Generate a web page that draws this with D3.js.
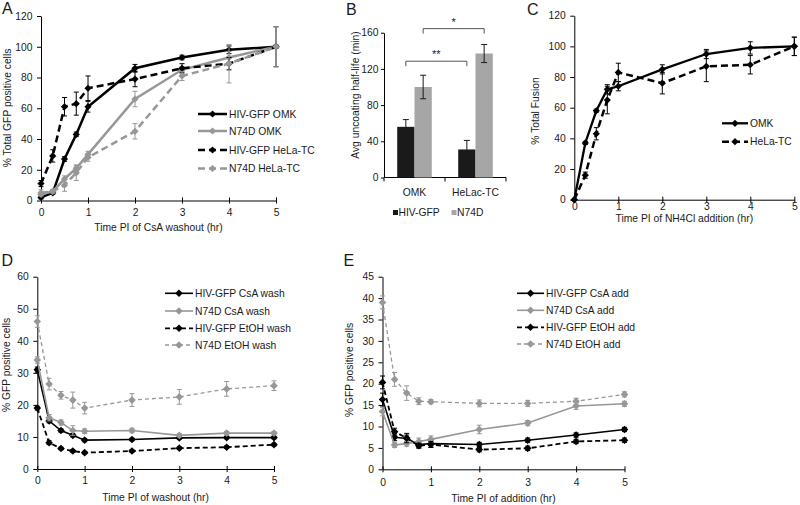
<!DOCTYPE html>
<html>
<head>
<meta charset="utf-8">
<script src="https://cdn.jsdelivr.net/npm/d3@7"></script>
<style>
body { margin: 0; background: #fff; }
text { font-family: "Liberation Sans", Arial, sans-serif; fill: #1a1a1a; }
</style>
</head>
<body>
<svg id="fig" width="800" height="505"></svg>
<script>
// shared time points (hr)
var times = [0, 0.25, 0.5, 0.75, 1, 2, 3, 4, 5];
var hourTicks = [0, 1, 2, 3, 4, 5];

// panel A - % total GFP positive cells after CsA washout
var aNames = ["HIV-GFP OMK", "N74D OMK", "HIV-GFP HeLa-TC", "N74D HeLa-TC"];
var aHivOmk = [2, 5, 27, 43, 61, 86, 93, 98, 100];
var aHivOmkErr = [1, 1, 1.5, 1.5, 3.5, 2.5, 1.5, 2.5, 1];
var aN74dOmk = [4, 6, 14, 21, 30, 66, 85, 93, 100];
var aN74dOmkErr = [1, 1, 2, 2, 2, 5, 2, 4, 1];
var aHivHela = [11, 29, 61, 63, 73, 79, 86, 89, 100];
var aHivHelaErr = [2, 4, 6, 7.5, 8, 5, 3, 4, 13];
var aN74dHela = [5, 6, 10, 18, 28, 45, 81, 89, 100];
var aN74dHelaErr = [2, 1, 4, 5, 2.5, 5, 3, 12.5, 13];

// panel B - average uncoating half-life (min)
var bCats = ["OMK", "HeLac-TC"];
var bHiv = [56, 31];
var bHivErr = [8, 10];
var bN74d = [100, 137];
var bN74dErr = [13, 10];

// panel C - % total fusion after NH4Cl addition
var cNames = ["OMK", "HeLa-TC"];
var cOmk = [0, 37, 58, 72, 74, 85, 95, 99, 100];
var cOmkErr = [0, 1, 1, 3, 3, 3, 3, 4, 6];
var cHela = [0, 16, 43, 65, 83, 76, 87, 88, 100];
var cHelaErr = [0, 2, 4, 9, 6, 7, 10, 6, 6];

// panel D - % GFP positive cells after washout
var dNames = ["HIV-GFP CsA wash", "N74D CsA wash", "HIV-GFP EtOH wash", "N74D EtOH wash"];
var dHivCsa = [31, 15, 12, 10.5, 9, 9.2, 9.7, 9.8, 9.8];
var dHivCsaErr = [0.8, 0.6, 0.5, 0.5, 0.5, 0.4, 0.4, 0.4, 0.4];
var dN74dCsa = [34, 16, 14.5, 12, 11.8, 12, 10.5, 11.2, 11.2];
var dN74dCsaErr = [1, 1, 0.8, 1.5, 0.7, 0.7, 0.5, 0.5, 0.5];
var dHivEtoh = [19, 8.2, 6.4, 5.6, 5.1, 5.6, 6.5, 6.8, 7.6];
var dHivEtohErr = [0.6, 0.6, 0.4, 0.4, 0.4, 0.4, 0.4, 0.4, 0.4];
var dN74dEtoh = [46, 26.5, 23, 21.5, 19, 21.5, 22.5, 25, 26];
var dN74dEtohErr = [1.8, 1.8, 1.2, 2.5, 1.8, 2, 2.3, 2.3, 1.5];

// panel E - % GFP positive cells after addition
var eNames = ["HIV-GFP CsA add", "N74D CsA add", "HIV-GFP EtOH add", "N74D EtOH add"];
var eHivCsa = [16.3, 7.5, 7.2, 5.8, 6, 5.8, 6.8, 8, 9.3];
var eHivCsaErr = [1.5, 0.8, 0.8, 0.7, 0.8, 0.5, 0.5, 0.5, 0.5];
var eN74dCsa = [13.5, 5.7, 6, 6.5, 7, 9.3, 10.8, 14.8, 15.3];
var eN74dCsaErr = [1, 0.6, 0.6, 0.8, 0.8, 1, 0.6, 0.8, 0.6];
var eHivEtoh = [20.3, 8.8, 7.3, 5.5, 5.8, 4.6, 4.9, 6.5, 6.8];
var eHivEtohErr = [1.5, 0.8, 1.1, 0.6, 0.7, 0.5, 0.5, 0.5, 0.5];
var eN74dEtoh = [39, 21, 17.8, 15.9, 15.8, 15.4, 15.4, 15.9, 17.5];
var eN74dEtohErr = [1.5, 1.6, 1.7, 0.8, 0.5, 0.8, 0.7, 0.7, 0.6];

var black = "#000", grey = "#979797";
var fs = 10.3;
var svg = d3.select("#fig");

function diamond(r) {
  return "M0," + (-r) + "L" + r + ",0L0," + r + "L" + (-r) + ",0Z";
}

function styleAxis(g) {
  g.selectAll("path, line").attr("stroke", "#000").attr("stroke-width", 1);
  g.selectAll("text").attr("font-size", fs)
    .attr("font-family", "Liberation Sans, Arial, sans-serif").attr("fill", "#1a1a1a");
  g.attr("font-family", null).attr("font-size", null);
}

function label(x, y, txt, size, anchor, rot) {
  var t = svg.append("text").attr("font-size", size).attr("text-anchor", anchor || "start").text(txt);
  if (rot) t.attr("transform", "translate(" + x + "," + y + ") rotate(-90)");
  else t.attr("x", x).attr("y", y);
  return t;
}

function linePanel(p) {
  var x = d3.scaleLinear().domain([0, 5]).range([p.x0, p.x1]);
  var y = d3.scaleLinear().domain([0, p.yMax]).range([p.yBot, p.yTop]);
  var g = svg.append("g");

  var ya = g.append("g").attr("transform", "translate(" + p.x0 + ",0)")
    .call(d3.axisLeft(y).tickValues(d3.range(0, p.yMax + 0.01, p.yStep)).tickFormat(d3.format("d"))
      .tickSizeInner(4).tickSizeOuter(0).tickPadding(4.5));
  styleAxis(ya);

  var xa = g.append("g").attr("transform", "translate(0," + p.yBot + ")")
    .call(d3.axisBottom(x).tickValues(hourTicks).tickFormat(d3.format("d"))
      .tickSizeInner(3).tickSizeOuter(0).tickPadding(p.tickPad));
  styleAxis(xa);
  xa.selectAll(".tick line").attr("y1", -3).attr("y2", 3);

  var line = d3.line().x(function(d, i) { return x(times[i]); }).y(function(d) { return y(d); });

  p.series.forEach(function(s) {
    g.append("path").datum(s.vals).attr("d", line).attr("fill", "none")
      .attr("stroke", s.color).attr("stroke-width", s.width)
      .attr("stroke-dasharray", s.dash || null);
    var eb = g.append("g").attr("stroke", s.color).attr("stroke-width", 1);
    s.vals.forEach(function(v, i) {
      var e = s.errs[i];
      if (!e) return;
      var cx = x(times[i]);
      eb.append("line").attr("x1", cx).attr("x2", cx).attr("y1", y(v - e)).attr("y2", y(v + e));
      eb.append("line").attr("x1", cx - 2.5).attr("x2", cx + 2.5).attr("y1", y(v - e)).attr("y2", y(v - e));
      eb.append("line").attr("x1", cx - 2.5).attr("x2", cx + 2.5).attr("y1", y(v + e)).attr("y2", y(v + e));
    });
    g.append("g").selectAll("path").data(s.vals).enter().append("path")
      .attr("d", diamond(s.r)).attr("fill", s.color)
      .attr("transform", function(d, i) { return "translate(" + x(times[i]) + "," + y(d) + ")"; });
  });

  // legend
  p.series.forEach(function(s, i) {
    var ly = p.legY[i];
    g.append("line").attr("x1", p.legX0).attr("x2", p.legX1).attr("y1", ly).attr("y2", ly)
      .attr("stroke", s.color).attr("stroke-width", s.width).attr("stroke-dasharray", s.dash || null);
    g.append("path").attr("d", diamond(s.r)).attr("fill", s.color)
      .attr("transform", "translate(" + ((p.legX0 + p.legX1) / 2) + "," + ly + ")");
    g.append("text").attr("x", p.legX1 + 2).attr("y", ly + 3.7).attr("font-size", fs).text(s.name);
  });

  label((p.x0 + p.x1) / 2, p.xTitleY, p.xTitle, fs, "middle");
  label(p.yTitleX, p.yTitleY, p.yTitle, fs, "middle", true);
}

// ---- A ----
linePanel({
  x0: 41, x1: 276, yTop: 16, yBot: 200.5, yMax: 120, yStep: 20, tickPad: 5.5,
  xTitle: "Time PI of CsA washout (hr)", xTitleY: 230.5,
  yTitle: "% Total GFP positive cells", yTitleX: 11, yTitleY: 108,
  legX0: 198, legX1: 227, legY: [114, 131, 150, 168.5],
  series: [
    { name: aNames[0], vals: aHivOmk, errs: aHivOmkErr, color: black, width: 2.5, r: 3.6 },
    { name: aNames[1], vals: aN74dOmk, errs: aN74dOmkErr, color: grey, width: 2.5, r: 3.6 },
    { name: aNames[2], vals: aHivHela, errs: aHivHelaErr, color: black, width: 2.5, r: 3.6, dash: "7,4" },
    { name: aNames[3], vals: aN74dHela, errs: aN74dHelaErr, color: grey, width: 2.5, r: 3.6, dash: "7,4" }
  ]
});

// ---- C ----
linePanel({
  x0: 574.3, x1: 794.3, yTop: 15.7, yBot: 199.7, yMax: 120, yStep: 20, tickPad: 0,
  xTitle: "Time PI of NH4Cl addition (hr)", xTitleY: 222,
  yTitle: "% Total Fusion", yTitleX: 539, yTitleY: 111,
  legX0: 722, legX1: 748, legY: [123.3, 141.7],
  series: [
    { name: cNames[0], vals: cOmk, errs: cOmkErr, color: black, width: 2.3, r: 3.6 },
    { name: cNames[1], vals: cHela, errs: cHelaErr, color: black, width: 2.5, r: 3.6, dash: "7,4" }
  ]
});

// ---- D ----
linePanel({
  x0: 37.3, x1: 274, yTop: 276.7, yBot: 469, yMax: 60, yStep: 10, tickPad: 4.5,
  xTitle: "Time PI of washout (hr)", xTitleY: 500.5,
  yTitle: "% GFP positive cells", yTitleX: 10, yTitleY: 365,
  legX0: 165, legX1: 193, legY: [293.3, 311, 328.3, 345],
  series: [
    { name: dNames[0], vals: dHivCsa, errs: dHivCsaErr, color: black, width: 1.6, r: 3.8 },
    { name: dNames[1], vals: dN74dCsa, errs: dN74dCsaErr, color: grey, width: 1.6, r: 3.8 },
    { name: dNames[2], vals: dHivEtoh, errs: dHivEtohErr, color: black, width: 1.8, r: 3.8, dash: "5,3" },
    { name: dNames[3], vals: dN74dEtoh, errs: dN74dEtohErr, color: grey, width: 1.3, r: 3.8, dash: "4,3" }
  ]
});

// ---- E ----
linePanel({
  x0: 382.5, x1: 624.5, yTop: 276.7, yBot: 469.3, yMax: 45, yStep: 5, tickPad: 6,
  xTitle: "Time PI of addition (hr)", xTitleY: 501.5,
  yTitle: "% GFP positive cells", yTitleX: 353, yTitleY: 370,
  legX0: 517, legX1: 544, legY: [293.3, 310.3, 327.3, 344],
  series: [
    { name: eNames[0], vals: eHivCsa, errs: eHivCsaErr, color: black, width: 1.6, r: 3.8 },
    { name: eNames[1], vals: eN74dCsa, errs: eN74dCsaErr, color: grey, width: 1.6, r: 3.8 },
    { name: eNames[2], vals: eHivEtoh, errs: eHivEtohErr, color: black, width: 1.8, r: 3.8, dash: "5,3" },
    { name: eNames[3], vals: eN74dEtoh, errs: eN74dEtohErr, color: grey, width: 1.3, r: 3.8, dash: "4,3" }
  ]
});

// ---- B (bars) ----
var bx = d3.scaleBand().domain(bCats).range([384, 506]).paddingInner(0.433).paddingOuter(0.2165);
var bx1 = d3.scaleBand().domain(["hiv", "n74d"]).range([0, bx.bandwidth()]);
var by = d3.scaleLinear().domain([0, 160]).range([177.5, 32.7]);
var gb = svg.append("g");

var bya = gb.append("g").attr("transform", "translate(384,0)")
  .call(d3.axisLeft(by).tickValues([0, 40, 80, 120, 160]).tickSizeInner(3).tickSizeOuter(0).tickPadding(2.5));
styleAxis(bya);
gb.append("line").attr("x1", 384).attr("x2", 506).attr("y1", by(0)).attr("y2", by(0)).attr("stroke", "#000");
[384, 445, 506].forEach(function(t) {
  gb.append("line").attr("x1", t).attr("x2", t).attr("y1", by(0)).attr("y2", by(0) + 4).attr("stroke", "#000");
});

var bSeries = [
  { key: "hiv", vals: bHiv, errs: bHivErr, color: "#1a1a1a" },
  { key: "n74d", vals: bN74d, errs: bN74dErr, color: "#a6a6a6" }
];
bSeries.forEach(function(s) {
  gb.append("g").selectAll("rect").data(s.vals).enter().append("rect")
    .attr("x", function(d, i) { return bx(bCats[i]) + bx1(s.key); })
    .attr("width", bx1.bandwidth())
    .attr("y", function(d) { return by(d); })
    .attr("height", function(d) { return by(0) - by(d); })
    .attr("fill", s.color);
  s.vals.forEach(function(v, i) {
    var cx = bx(bCats[i]) + bx1(s.key) + bx1.bandwidth() / 2, e = s.errs[i];
    var eg = gb.append("g").attr("stroke", "#1a1a1a").attr("stroke-width", 1);
    eg.append("line").attr("x1", cx).attr("x2", cx).attr("y1", by(v - e)).attr("y2", by(v + e));
    eg.append("line").attr("x1", cx - 3).attr("x2", cx + 3).attr("y1", by(v - e)).attr("y2", by(v - e));
    eg.append("line").attr("x1", cx - 3).attr("x2", cx + 3).attr("y1", by(v + e)).attr("y2", by(v + e));
  });
});

// significance brackets
var brackets = [
  { a: [0, "hiv"], b: [1, "hiv"], level: 128.5, drop: 123, mark: "**" },
  { a: [0, "n74d"], b: [1, "n74d"], level: 164.5, drop: 159, mark: "*" }
];
brackets.forEach(function(k) {
  var xa = bx(bCats[k.a[0]]) + bx1(k.a[1]) + bx1.bandwidth() / 2;
  var xb = bx(bCats[k.b[0]]) + bx1(k.b[1]) + bx1.bandwidth() / 2;
  gb.append("path").attr("fill", "none").attr("stroke", "#555").attr("stroke-width", 1)
    .attr("d", "M" + xa + "," + by(k.drop) + "V" + by(k.level) + "H" + xb + "V" + by(k.drop));
  gb.append("text").attr("x", (xa + xb) / 2).attr("y", by(k.level) - 3).attr("text-anchor", "middle")
    .attr("font-size", 11).text(k.mark);
});

bCats.forEach(function(c) {
  gb.append("text").attr("x", bx(c) + bx.bandwidth() / 2).attr("y", 195.5)
    .attr("text-anchor", "middle").attr("font-size", fs).text(c);
});

// legend B
var bLegend = [{ x: 393, name: "HIV-GFP", color: "#1a1a1a" }, { x: 451.5, name: "N74D", color: "#a6a6a6" }];
bLegend.forEach(function(l) {
  gb.append("rect").attr("x", l.x).attr("y", 210).attr("width", 5).attr("height", 5).attr("fill", l.color);
  gb.append("text").attr("x", l.x + 5.5).attr("y", 216.3).attr("font-size", fs).text(l.name);
});
label(359, 95, "Avg uncoating half-life (min)", fs, "middle", true);

// panel letters
label(2, 13.5, "A", 16);
label(346, 14.5, "B", 16);
label(527, 14.5, "C", 16);
label(1.5, 266, "D", 16);
label(343.5, 266, "E", 16);
</script>
</body>
</html>
